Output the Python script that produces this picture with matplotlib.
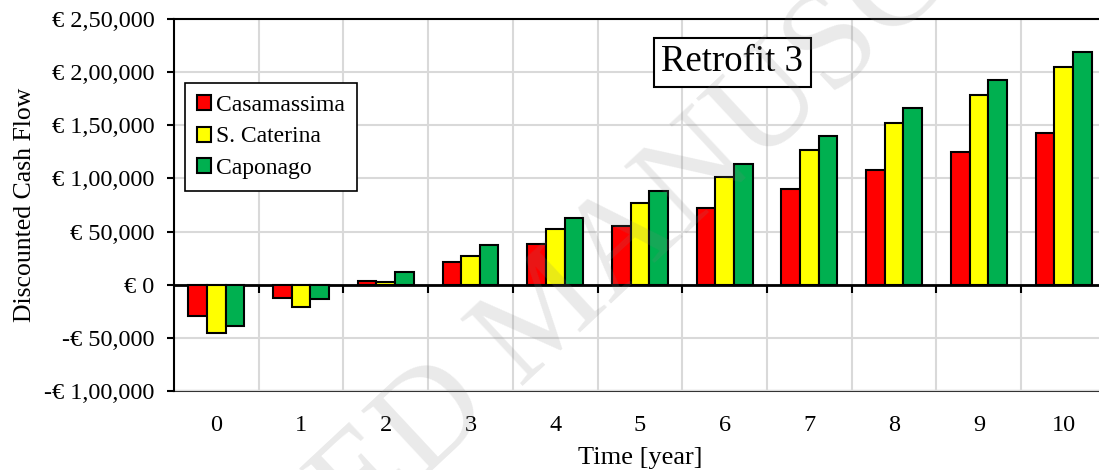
import numpy as np
import matplotlib.pyplot as plt
from matplotlib.ticker import FuncFormatter

plt.rcParams["font.family"] = ["Liberation Serif", "DejaVu Serif"]

# discounted cash flow per year for the three sites
years = list(range(11))
casamassima = [-29000, -12800, 3800, 21000, 38000, 55000, 72300, 89600, 107500, 125300, 143200]
s_caterina = [-45400, -21200, 2500, 27200, 52000, 76800, 101500, 126800, 152200, 178500, 204500]
caponago = [-38500, -13400, 11900, 37000, 62400, 88300, 114000, 140000, 166300, 193000, 219300]

series = [("Casamassima", casamassima, "#FF0000"),
          ("S. Caterina", s_caterina, "#FFFF00"),
          ("Caponago", caponago, "#00B050")]


def euro_indian(v, pos=None):
    # lakh-style digit grouping: 2,50,000
    v = int(round(v))
    sign = "-" if v < 0 else ""
    s = str(abs(v))
    if len(s) > 3:
        head, tail = s[:-3], s[-3:]
        groups = []
        while len(head) > 2:
            groups.insert(0, head[-2:])
            head = head[:-2]
        if head:
            groups.insert(0, head)
        s = ",".join(groups + [tail])
    return f"{sign}€ {s}"


fig = plt.figure(figsize=(10.99, 4.70), dpi=100)
ax = fig.add_axes([0.1583, 0.168, 0.848, 0.7916])

x = np.arange(len(years))
w = 0.22
for i, (name, vals, col) in enumerate(series):
    ax.bar(x + (i - 1) * w, vals, width=w, color=col, edgecolor="black",
           linewidth=1.5, label=name, zorder=3)

ax.set_xlim(-0.5, 10.5)
ax.set_ylim(-100000, 250000)
ax.set_yticks(np.arange(-100000, 250001, 50000))
ax.yaxis.set_major_formatter(FuncFormatter(euro_indian))
ax.tick_params(axis="y", length=5, width=1.5, direction="out", labelsize=17.5, pad=9)

# category boundaries carry the vertical grid and the ticks on the zero line
ax.set_xticks(np.arange(0.5, 10, 1.0))
ax.spines["bottom"].set_position(("data", 0))
ax.spines["bottom"].set_linewidth(2)
ax.tick_params(axis="x", length=6, width=1.5, direction="out", labelbottom=False)
ax.grid(True, color="#d9d9d9", linewidth=1.5, zorder=0)
ax.set_axisbelow(True)
for s in ("left", "top"):
    ax.spines[s].set_linewidth(1.5)
ax.spines["right"].set_visible(False)

sec = ax.secondary_xaxis("bottom")
sec.set_xticks(x)
sec.set_xticklabels([str(y) for y in years])
sec.tick_params(length=0, pad=17, labelsize=17.5)
sec.spines["bottom"].set_color("#333333")
sec.spines["bottom"].set_linewidth(1.5)
sec.set_xlabel("Time [year]", fontsize=19, labelpad=8)

ax.set_ylabel("Discounted Cash Flow", fontsize=18.5, labelpad=6)

leg = ax.legend(loc="upper left", bbox_to_anchor=(0.012, 0.828), borderaxespad=0,
                fontsize=17, fancybox=False, edgecolor="black", framealpha=1,
                handlelength=0.6, handleheight=0.6, handletextpad=0.2,
                labelspacing=0.45, borderpad=0.5)
leg.get_frame().set_linewidth(1.2)

ax.text(0.599, 0.884, "Retrofit 3", transform=ax.transAxes, fontsize=26.5,
        ha="center", va="center", zorder=5,
        bbox=dict(boxstyle="square,pad=0.2", facecolor="white", edgecolor="black", linewidth=1.5))

fig.text(0.5, 0.33, "ACCEPTED MANUSCRIPT", fontsize=100, rotation=43,
         ha="center", va="center", color="gray", alpha=0.17, zorder=10)

fig.savefig("out.png", dpi=100)
